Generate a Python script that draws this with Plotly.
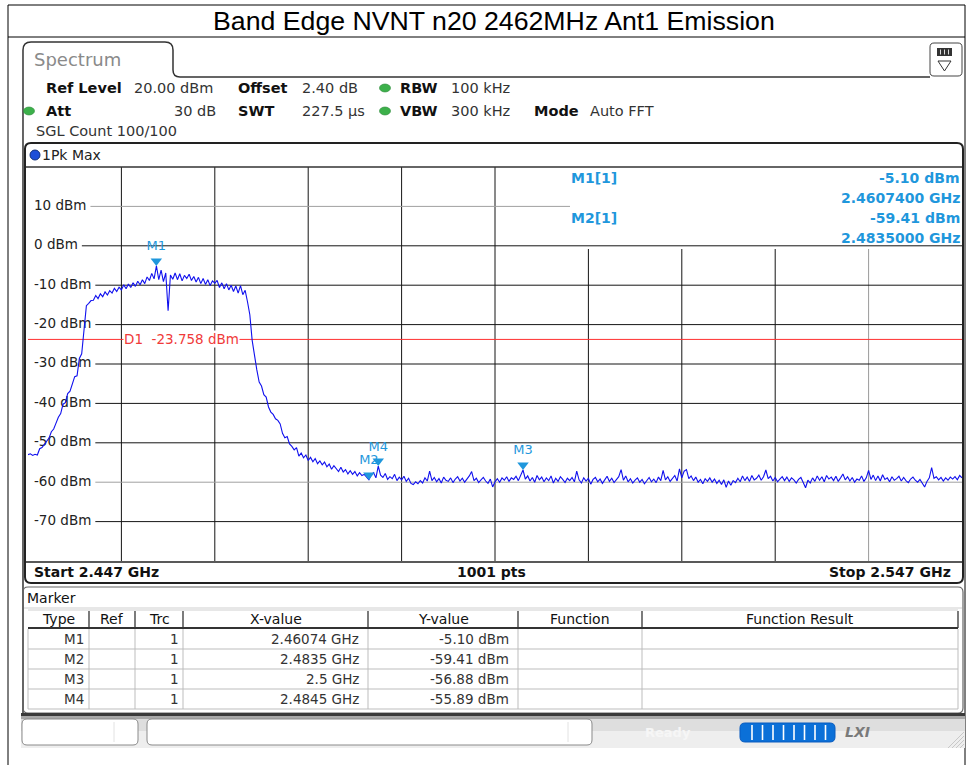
import numpy as np
import plotly.graph_objects as go

# ---------------- data ----------------
start_ghz = 2.447
stop_ghz = 2.547
step_mhz = 0.25
ref_level_dbm = 20.0
bottom_dbm = -80.0
n_points_label = 1001

# trace (1Pk Max), one row per MHz starting at 2447 MHz, 0.25 MHz apart
level_dbm = [
    -53.0, -52.8, -53.2, -52.9,   # 2447
    -53.1, -51.5, -51.2, -50.4,   # 2448
    -49.6, -48.8, -47.2, -46.5,   # 2449
    -45.0, -43.5, -42.6, -40.2,   # 2450
    -39.8, -37.5, -36.9, -35.0,   # 2451
    -33.2, -33.0, -28.6, -27.4,   # 2452
    -21.0, -15.2, -14.6, -13.9,   # 2453
    -13.8, -12.6, -13.4, -12.2,   # 2454
    -12.9, -11.7, -12.5, -11.4,   # 2455
    -12.0, -10.8, -11.6, -10.5,   # 2456
    -11.2, -9.9, -10.9, -9.7,     # 2457
    -10.6, -9.4, -10.3, -9.0,     # 2458
    -9.9, -8.6, -9.6, -7.9,       # 2459
    -8.8, -7.0, -8.4, -5.1,       # 2460
    -8.6, -6.2, -9.1, -6.9,       # 2461
    -16.5, -7.4, -8.5, -6.9,      # 2462
    -8.6, -7.1, -8.9, -7.5,       # 2463
    -8.3, -7.2, -8.8, -7.8,       # 2464
    -9.2, -8.0, -9.6, -8.3,       # 2465
    -9.8, -8.6, -10.1, -8.9,      # 2466
    -9.5, -8.8, -10.6, -9.4,      # 2467
    -10.9, -9.6, -11.2, -10.0,    # 2468
    -11.6, -10.2, -12.0, -10.1,   # 2469
    -12.4, -11.3, -14.2, -17.5,   # 2470
    -24.0, -28.3, -31.5, -34.6,   # 2471
    -35.6, -37.8, -38.4, -40.9,   # 2472
    -42.2, -42.8, -43.9, -44.3,   # 2473
    -45.2, -47.6, -48.7, -48.4,   # 2474
    -50.3, -50.9, -51.8, -51.2,   # 2475
    -53.4, -52.6, -53.8, -53.1,   # 2476
    -54.5, -53.7, -54.8, -54.0,   # 2477
    -55.3, -54.6, -55.6, -54.9,   # 2478
    -56.1, -55.4, -56.7, -55.8,   # 2479
    -56.5, -57.3, -56.2, -57.4,   # 2480
    -56.8, -57.9, -57.1, -58.0,   # 2481
    -57.3, -58.4, -57.6, -58.3,   # 2482
    -58.0, -58.6, -59.4, -58.1,   # 2483
    -57.6, -58.9, -55.9, -58.2,   # 2484
    -58.8, -57.8, -59.3, -58.6,   # 2485
    -59.1, -58.0, -59.6, -58.7,   # 2486
    -59.4, -58.5, -59.8, -59.0,   # 2487
    -60.3, -60.6, -59.9, -60.4,   # 2488
    -59.6, -60.2, -58.9, -59.7,   # 2489
    -57.2, -59.6, -58.8, -59.9,   # 2490
    -59.1, -60.2, -58.7, -59.5,   # 2491
    -59.8, -58.9, -60.1, -59.2,   # 2492
    -58.6, -59.7, -59.0, -60.0,   # 2493
    -59.3, -58.4, -57.3, -59.6,   # 2494
    -59.0, -60.1, -59.4, -58.8,   # 2495
    -59.7, -60.3, -59.2, -61.2,   # 2496
    -59.9, -59.1, -60.0, -58.9,   # 2497
    -59.5, -58.6, -59.8, -58.9,   # 2498
    -59.3, -58.5, -59.6, -58.2,   # 2499
    -56.9, -59.2, -58.4, -59.7,   # 2500
    -58.8, -60.0, -58.3, -59.4,   # 2501
    -58.7, -59.9, -58.9, -59.6,   # 2502
    -58.4, -60.2, -59.0, -59.8,   # 2503
    -58.6, -59.3, -60.1, -59.0,   # 2504
    -59.6, -58.8, -59.9, -57.2,   # 2505
    -59.4, -60.2, -58.9, -59.7,   # 2506
    -59.0, -60.5, -59.3, -58.8,   # 2507
    -59.9, -59.2, -60.3, -59.4,   # 2508
    -58.5, -59.8, -59.0, -60.1,   # 2509
    -59.3, -58.6, -56.8, -59.5,   # 2510
    -58.4, -59.9, -59.1, -60.2,   # 2511
    -59.5, -58.9, -60.0, -59.3,   # 2512
    -60.4, -59.6, -58.8, -59.9,   # 2513
    -59.2, -60.1, -58.7, -59.6,   # 2514
    -57.0, -59.4, -58.6, -59.8,   # 2515
    -59.0, -58.3, -59.7, -56.6,   # 2516
    -58.9, -57.2, -56.8, -59.1,   # 2517
    -58.4, -59.6, -58.7, -60.0,   # 2518
    -59.3, -60.4, -59.1, -59.8,   # 2519
    -58.9, -60.0, -59.2, -60.3,   # 2520
    -59.5, -60.6, -59.4, -61.3,   # 2521
    -59.7, -60.8, -59.6, -60.1,   # 2522
    -59.0, -59.9, -58.4, -59.6,   # 2523
    -58.7, -59.8, -58.3, -59.4,   # 2524
    -59.0, -58.2, -59.5, -58.6,   # 2525
    -56.9, -59.1, -58.5, -59.7,   # 2526
    -58.8, -59.9, -59.2, -58.6,   # 2527
    -59.6, -58.7, -59.8, -58.9,   # 2528
    -59.4, -60.2, -59.3, -58.8,   # 2529
    -60.1, -61.4, -59.5, -60.2,   # 2530
    -58.9, -59.8, -58.4, -59.5,   # 2531
    -58.6, -59.9, -58.3, -59.2,   # 2532
    -58.7, -59.6, -58.5, -59.8,   # 2533
    -58.9, -57.9, -59.4, -58.6,   # 2534
    -59.7, -58.8, -60.0, -59.2,   # 2535
    -59.5, -58.4, -59.8, -58.9,   # 2536
    -57.0, -59.3, -58.2, -59.6,   # 2537
    -58.4, -59.7, -58.1, -59.3,   # 2538
    -58.9, -59.9, -58.6, -59.5,   # 2539
    -59.1, -58.5, -59.7, -58.8,   # 2540
    -59.6, -60.1, -59.2, -58.7,   # 2541
    -59.5, -60.0, -59.3, -60.4,   # 2542
    -61.2, -59.8, -58.9, -56.3,   # 2543
    -59.0, -58.6, -59.4, -58.8,   # 2544
    -59.7, -58.9, -59.5, -58.7,   # 2545
    -59.2, -58.6, -59.4, -58.3,   # 2546
    -58.9,                        # 2547
]
freq_ghz = start_ghz + np.arange(len(level_dbm)) * step_mhz / 1000.0

marker_names = ["M1", "M2", "M3", "M4"]
marker_trc = [1, 1, 1, 1]
marker_freq_ghz = [2.46074, 2.4835, 2.5, 2.4845]
marker_level_dbm = [-5.10, -59.41, -56.88, -55.89]

d1_level_dbm = -23.758
y_tick_dbm = [10, 0, -10, -20, -30, -40, -50, -60, -70]
x_div_ghz = [2.457, 2.467, 2.477, 2.487, 2.497, 2.507, 2.517, 2.527, 2.537]

title_text = "Band Edge NVNT n20 2462MHz Ant1 Emission"
header_row1 = [("Ref Level", "20.00 dBm"), ("Offset", "2.40 dB"), ("RBW", "100 kHz")]
header_row2 = [("Att", "30 dB"), ("SWT", "227.5 µs"), ("VBW", "300 kHz"), ("Mode", "Auto FFT")]
sgl_text = "SGL Count 100/100"
table_cols = ["Type", "Ref", "Trc", "X-value", "Y-value", "Function", "Function Result"]

# ---------------- geometry (pixels) ----------------
W, H = 967, 765
PL, PR, PT, PB = 28, 962, 167, 561
px_per_db = (PB - PT) / (ref_level_dbm - bottom_dbm)
FONT = "DejaVu Sans"
BLUE_M = "#1f97dc"


def X(px):
    return px / W


def Y(py):
    return 1 - py / H


def pt(x, y):
    return f"{X(x):.5f},{Y(y):.5f}"


def rrect(x0, y0, x1, y1, r):
    return (f"M{pt(x0 + r, y0)} L{pt(x1 - r, y0)} Q{pt(x1, y0)} {pt(x1, y0 + r)} "
            f"L{pt(x1, y1 - r)} Q{pt(x1, y1)} {pt(x1 - r, y1)} L{pt(x0 + r, y1)} "
            f"Q{pt(x0, y1)} {pt(x0, y1 - r)} L{pt(x0, y0 + r)} Q{pt(x0, y0)} {pt(x0 + r, y0)} Z")


shapes = []
ann = []


def line(x0, y0, x1, y1, color="#111", width=1, layer="above"):
    shapes.append(dict(type="line", xref="paper", yref="paper", x0=X(x0), y0=Y(y0), x1=X(x1), y1=Y(y1),
                       line=dict(color=color, width=width), layer=layer))


def rect(x0, y0, x1, y1, fill, lc=None, lw=0, layer="below"):
    shapes.append(dict(type="rect", xref="paper", yref="paper", x0=X(x0), y0=Y(y0), x1=X(x1), y1=Y(y1),
                       fillcolor=fill, line=dict(color=lc or fill, width=lw), layer=layer))


def path(p, color="#222", width=1, fill=None, layer="above"):
    d = dict(type="path", xref="paper", yref="paper", path=p, line=dict(color=color, width=width), layer=layer)
    if fill:
        d["fillcolor"] = fill
    shapes.append(d)


def txt(s, x, y, size=14, color="#222", bold=False, xanchor="left", family=FONT, bg=None, italic=False):
    t = s
    if bold:
        t = f"<b>{t}</b>"
    if italic:
        t = f"<i>{t}</i>"
    a = dict(text=t, x=X(x), y=Y(y), xref="paper", yref="paper", xanchor=xanchor, yanchor="middle",
             showarrow=False, font=dict(family=family, size=size, color=color), borderpad=0, borderwidth=0)
    if bg:
        a["bgcolor"] = bg
    ann.append(a)


# ---------------- page frame + title ----------------
line(8, 5, 965, 5, "#000", 1)
line(8, 37, 965, 37, "#000", 1)
line(8, 5, 8, 765, "#000", 1)
line(965, 5, 965, 765, "#000", 1)
txt(title_text, 494, 21, size=26.7, color="#000", xanchor="center", family="Liberation Sans")

# ---------------- spectrum tab / panel ----------------
path(f"M{pt(23, 713)} L{pt(23, 50)} Q{pt(23, 42)} {pt(31, 42)} L{pt(165, 42)} Q{pt(173, 42)} {pt(173, 50)} "
     f"L{pt(173, 70)} Q{pt(173, 77)} {pt(180, 77)} L{pt(930, 77)}", "#333", 1.5)
txt("Spectrum", 34, 60, size=18, color="#8a8a8a")
path(rrect(930, 43, 962, 76, 4), "#444", 1)
rect(937, 48, 952, 56, "#333", layer="above")
for bx in (940.5, 944.5, 948.5):
    line(bx, 49.5, bx, 54.5, "#ddd", 1)
path(f"M{pt(938, 61)} L{pt(951, 61)} L{pt(944.5, 71)} Z", "#333", 1)

# header rows
hdr1_x = [(46, 134), (238, 302), (400, 451)]
for (lab, val), (lx, vx) in zip(header_row1, hdr1_x):
    txt(lab, lx, 88, size=14.5, color="#111", bold=True)
    txt(val, vx, 88, size=14.5, color="#333")
hdr2_x = [(46, 216), (238, 302), (400, 451), (534, 590)]
for i, ((lab, val), (lx, vx)) in enumerate(zip(header_row2, hdr2_x)):
    txt(lab, lx, 111, size=14.5, color="#111", bold=True)
    txt(val, vx, 111, size=14.5, color="#333", xanchor="right" if i == 0 else "left")
txt(sgl_text, 36, 131, size=14.5, color="#333")
for (cx, cy) in [(385, 88), (385, 111), (29, 111)]:
    shapes.append(dict(type="circle", xref="paper", yref="paper", x0=X(cx - 5.5), x1=X(cx + 5.5),
                       y0=Y(cy - 4), y1=Y(cy + 4), fillcolor="#3cb04a", line=dict(color="#2a8a38", width=0.6)))

# ---------------- diagram frame ----------------
path(rrect(25, 143, 963, 583, 6), "#222", 2)
shapes.append(dict(type="circle", xref="paper", yref="paper", x0=X(30), x1=X(40), y0=Y(150), y1=Y(160),
                   fillcolor="#1d4fd8", line=dict(color="#10307a", width=1)))
txt("1Pk Max", 42, 155, size=14, color="#222")
line(26, PT, 962, PT, "#333", 1.5)
line(26, PB + 1, 962, PB + 1, "#222", 1.5)

# grid
box_left_px = 570
box_bottom_px = 249
for f in x_div_ghz:
    xpx = PL + (f - start_ghz) / (stop_ghz - start_ghz) * (PR - PL)
    top = box_bottom_px if xpx > box_left_px else PT
    col = "#9a9a9a" if abs(f - 2.537) < 1e-6 else "#151515"
    shapes.append(dict(type="line", xref="x", yref="paper", x0=f, x1=f, y0=Y(PB), y1=Y(top),
                       line=dict(color=col, width=1), layer="below"))

cw = {"-": 0.361, " ": 0.318, "d": 0.635, "B": 0.686, "m": 0.974}
lab_size = 13.5
for v in y_tick_dbm:
    lab = f"{v} dBm"
    wpx = sum(cw.get(c, 0.636) for c in lab) * lab_size
    x0 = 35 + wpx + 3
    x1 = box_left_px if v > 0 else PR
    col = "#a0a0a0" if v in (10, -60) else "#151515"
    shapes.append(dict(type="line", xref="paper", yref="y", x0=X(x0), x1=X(x1), y0=v, y1=v,
                       line=dict(color=col, width=1), layer="below"))

# D1 line
shapes.append(dict(type="line", xref="paper", yref="y", x0=X(PL), x1=X(PR), y0=d1_level_dbm, y1=d1_level_dbm,
                   line=dict(color="#ff3030", width=1), layer="below"))
ann.append(dict(text=f"D1\u00a0 {d1_level_dbm:.3f} dBm", x=X(123), y=d1_level_dbm, xref="paper", yref="y",
                xanchor="left", yanchor="middle", showarrow=False, bgcolor="white", borderpad=0,
                font=dict(family=FONT, size=13.5, color="#f03a3a")))

# marker info box
info_x_l, info_x_r = 571, 960
txt(f"{marker_names[0]}[{marker_trc[0]}]", info_x_l, 178, 14, BLUE_M, bold=True)
txt(f"{marker_level_dbm[0]:.2f} dBm", info_x_r, 178, 14, BLUE_M, bold=True, xanchor="right")
txt(f"{marker_freq_ghz[0]:.7f} GHz", info_x_r, 198, 14, BLUE_M, bold=True, xanchor="right")
txt(f"{marker_names[1]}[{marker_trc[1]}]", info_x_l, 218, 14, BLUE_M, bold=True)
txt(f"{marker_level_dbm[1]:.2f} dBm", info_x_r, 218, 14, BLUE_M, bold=True, xanchor="right")
txt(f"{marker_freq_ghz[1]:.7f} GHz", info_x_r, 238, 14, BLUE_M, bold=True, xanchor="right")

# footer of diagram
txt(f"Start {start_ghz:g} GHz", 34, 572, 14, "#111", bold=True)
txt(f"{n_points_label} pts", 491, 572, 14, "#111", bold=True, xanchor="center")
txt(f"Stop {stop_ghz:g} GHz", 951, 572, 14, "#111", bold=True, xanchor="right")

# ---------------- marker table ----------------
path(rrect(23, 587, 963, 713, 5), "#666", 1.2)
txt("Marker", 27, 598, 14, "#111")
line(24, 608, 962, 608, "#cfcfcf", 1)
col_x = [28, 89, 135, 183, 368, 518, 642, 958]
line(28, 610, 958, 610, "#cfcfcf", 1)
for cx in col_x[1:]:
    line(cx, 611, cx, 628, "#444", 1.4)
line(28, 628, 958, 628, "#333", 2)
for cx in col_x:
    line(cx, 629, cx, 709, "#bdbdbd", 1)
row_y = [639, 659, 679, 699]
for ry in row_y:
    line(28, ry + 10, 958, ry + 10, "#bdbdbd", 1)
for i, c in enumerate(table_cols):
    txt(c, (col_x[i] + col_x[i + 1]) / 2, 619, 14, "#111", xanchor="center")
for i in range(len(marker_names)):
    ry = row_y[i]
    txt(marker_names[i], 84, ry, 13.5, "#333", xanchor="right")
    txt(str(marker_trc[i]), 179, ry, 13.5, "#333", xanchor="right")
    txt(f"{marker_freq_ghz[i]:g} GHz", 359, ry, 13.5, "#333", xanchor="right")
    txt(f"{marker_level_dbm[i]:.2f} dBm", 509, ry, 13.5, "#333", xanchor="right")

# ---------------- status bar ----------------
rect(21, 713, 965, 716, "#3a3a3a", layer="above")
rect(21, 716, 965, 719, "#a8a8a8", layer="above")
rect(21, 719, 965, 731, "#dedede", layer="above")
rect(21, 731, 965, 748, "#eeeeee", layer="above")
path(rrect(22, 719, 138, 745, 5), "#8a8a8a", 1, fill="white")
line(114, 722, 114, 742, "#e2e2e2", 1)
path(rrect(147, 719, 592, 745, 5), "#8a8a8a", 1, fill="white")
line(568, 722, 568, 742, "#e2e2e2", 1)
txt("Ready", 645, 732, 13, "#f6f6f6", bold=True)
path(rrect(740, 723, 835, 742, 5), "#0a5cbf", 1, fill="#0b70d8")
for sx in [752, 762.5, 773, 783.5, 794, 804.5, 815, 825.5]:
    line(sx, 725, sx, 740, "white", 1.6)
txt("LXI", 845, 732, 14, "#7a7a7a", bold=True, italic=True)
for k in range(4):
    line(948 + 4 * k, 748, 964, 732 + 4 * k, "#c8c8c8", 1)

# ---------------- traces ----------------
fig = go.Figure()
lab_x = start_ghz + (34 - PL) / (PR - PL) * (stop_ghz - start_ghz)
fig.add_trace(go.Scatter(x=[lab_x] * len(y_tick_dbm), y=y_tick_dbm, mode="text",
                         text=[f"{v} dBm" for v in y_tick_dbm], textposition="middle right",
                         textfont=dict(family=FONT, size=lab_size, color="#222"),
                         hoverinfo="skip", showlegend=False))
fig.add_trace(go.Scatter(x=freq_ghz, y=level_dbm, mode="lines",
                         line=dict(color="#1010ee", width=1.1), showlegend=False, hoverinfo="skip"))
msize = 10
m_off = (msize / 2) / px_per_db
fig.add_trace(go.Scatter(x=marker_freq_ghz, y=[v + m_off for v in marker_level_dbm], mode="markers+text",
                         marker=dict(symbol="triangle-down", size=msize, color=BLUE_M, line=dict(width=0)),
                         text=marker_names, textposition="top center",
                         textfont=dict(family=FONT, size=13, color=BLUE_M),
                         showlegend=False, hoverinfo="skip", cliponaxis=False))

fig.update_layout(
    width=W, height=H, margin=dict(l=0, r=0, t=0, b=0),
    paper_bgcolor="white", plot_bgcolor="white",
    xaxis=dict(domain=[X(PL), X(PR)], range=[start_ghz, stop_ghz], visible=False, fixedrange=True),
    yaxis=dict(domain=[Y(PB), Y(PT)], range=[bottom_dbm, ref_level_dbm], visible=False, fixedrange=True),
    shapes=shapes, annotations=ann, showlegend=False,
)
fig.write_html("out.html", config={"displayModeBar": False},
               post_script="document.body.style.margin='0';document.body.style.overflow='hidden';")
